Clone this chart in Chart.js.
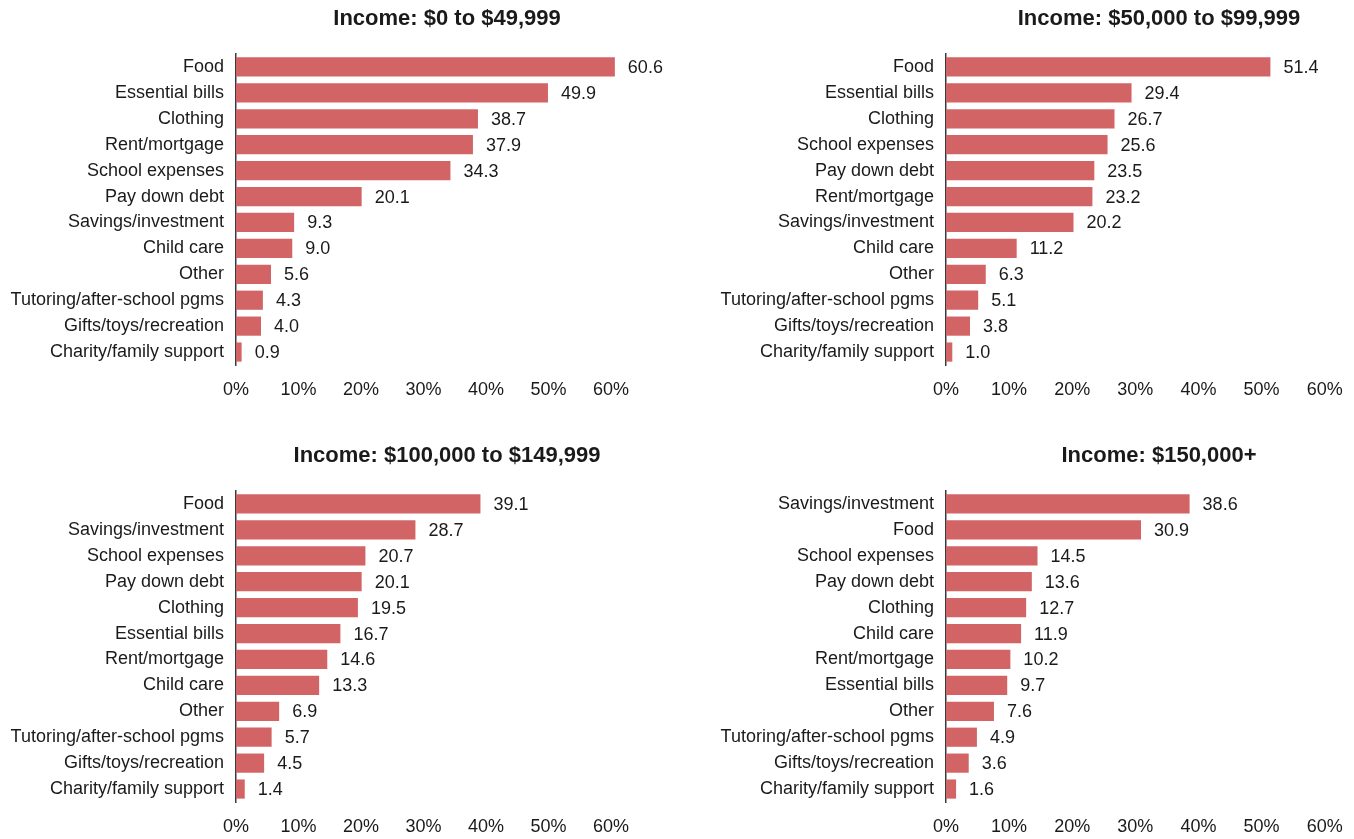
<!DOCTYPE html>
<html>
<head>
<meta charset="utf-8">
<script src="https://cdn.jsdelivr.net/npm/chart.js@4.4.1/dist/chart.umd.min.js"></script>
<style>
  html, body { margin: 0; padding: 0; background: #ffffff; overflow: hidden; width: 1354px; height: 839px; }
  canvas { position: absolute; }
</style>
</head>
<body>
<canvas id="c1" width="700" height="409" style="left:0px;top:0px"></canvas>
<canvas id="c2" width="672" height="409" style="left:700px;top:0px"></canvas>
<canvas id="c3" width="700" height="409" style="left:0px;top:437px"></canvas>
<canvas id="c4" width="672" height="409" style="left:700px;top:437px"></canvas>
<script>
// ---- Data ----
const titles = [
  "Income: $0 to $49,999",
  "Income: $50,000 to $99,999",
  "Income: $100,000 to $149,999",
  "Income: $150,000+"
];

const categories1 = ["Food", "Essential bills", "Clothing", "Rent/mortgage", "School expenses", "Pay down debt",
  "Savings/investment", "Child care", "Other", "Tutoring/after-school pgms", "Gifts/toys/recreation", "Charity/family support"];
const values1 = [60.6, 49.9, 38.7, 37.9, 34.3, 20.1, 9.3, 9.0, 5.6, 4.3, 4.0, 0.9];

const categories2 = ["Food", "Essential bills", "Clothing", "School expenses", "Pay down debt", "Rent/mortgage",
  "Savings/investment", "Child care", "Other", "Tutoring/after-school pgms", "Gifts/toys/recreation", "Charity/family support"];
const values2 = [51.4, 29.4, 26.7, 25.6, 23.5, 23.2, 20.2, 11.2, 6.3, 5.1, 3.8, 1.0];

const categories3 = ["Food", "Savings/investment", "School expenses", "Pay down debt", "Clothing", "Essential bills",
  "Rent/mortgage", "Child care", "Other", "Tutoring/after-school pgms", "Gifts/toys/recreation", "Charity/family support"];
const values3 = [39.1, 28.7, 20.7, 20.1, 19.5, 16.7, 14.6, 13.3, 6.9, 5.7, 4.5, 1.4];

const categories4 = ["Savings/investment", "Food", "School expenses", "Pay down debt", "Clothing", "Child care",
  "Rent/mortgage", "Essential bills", "Other", "Tutoring/after-school pgms", "Gifts/toys/recreation", "Charity/family support"];
const values4 = [38.6, 30.9, 14.5, 13.6, 12.7, 11.9, 10.2, 9.7, 7.6, 4.9, 3.6, 1.6];

const tickValues = [0, 10, 20, 30, 40, 50, 60];

// ---- Styling ----
const FONT = '"Liberation Sans", Arial, Helvetica, sans-serif';
const TEXT = '#1a1a1a';
const BAR = '#d26466';

const valueLabels = {
  id: 'valueLabels',
  afterDatasetsDraw(chart) {
    const ctx = chart.ctx;
    const meta = chart.getDatasetMeta(0);
    const data = chart.data.datasets[0].data;
    ctx.save();
    ctx.font = '18px ' + FONT;
    ctx.fillStyle = TEXT;
    ctx.textAlign = 'left';
    ctx.textBaseline = 'middle';
    meta.data.forEach((bar, i) => {
      ctx.fillText(Number(data[i]).toFixed(1), bar.x + 13, bar.y + 1);
    });
    ctx.restore();
  }
};

function makeChart(id, title, cats, vals, yWidth, padRight) {
  new Chart(document.getElementById(id), {
    type: 'bar',
    data: {
      labels: cats,
      datasets: [{
        data: vals,
        backgroundColor: BAR,
        borderWidth: 0,
        categoryPercentage: 1.0,
        barPercentage: 0.74
      }]
    },
    plugins: [valueLabels],
    options: {
      indexAxis: 'y',
      responsive: false,
      animation: false,
      devicePixelRatio: 1,
      layout: { padding: { left: 0, top: 0, bottom: 0, right: padRight } },
      plugins: {
        legend: { display: false },
        tooltip: { enabled: false },
        title: {
          display: true,
          text: title,
          fullSize: false,
          color: TEXT,
          font: { family: FONT, size: 22, weight: 'bold', lineHeight: 1.2 },
          padding: { top: 5.8, bottom: 21.8 }
        }
      },
      scales: {
        x: {
          min: 0,
          max: 67.5,
          grid: { display: false, drawTicks: false },
          border: { display: false },
          afterBuildTicks: (axis) => { axis.ticks = tickValues.map(v => ({ value: v })); },
          afterFit: (axis) => { axis.height = 44; },
          ticks: {
            color: TEXT,
            padding: 14,
            maxRotation: 0,
            autoSkip: false,
            font: { family: FONT, size: 18 },
            callback: (v) => v + '%'
          }
        },
        y: {
          grid: { display: false, drawTicks: false },
          border: { display: true, color: '#3a3a3a', width: 1.5 },
          afterFit: (axis) => { axis.width = yWidth; },
          ticks: {
            color: TEXT,
            padding: 12,
            autoSkip: false,
            font: { family: FONT, size: 18 }
          }
        }
      }
    }
  });
}

makeChart('c1', titles[0], categories1, values1, 236, 42);
makeChart('c2', titles[1], categories2, values2, 246, 0);
makeChart('c3', titles[2], categories3, values3, 236, 42);
makeChart('c4', titles[3], categories4, values4, 246, 0);
</script>
</body>
</html>
